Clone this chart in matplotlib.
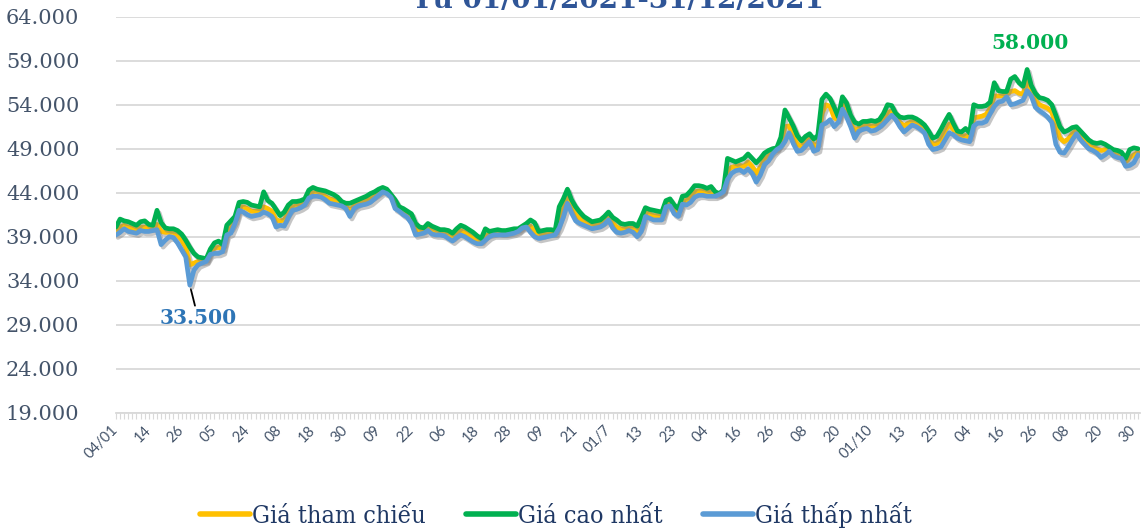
import matplotlib
matplotlib.use("Agg")
import matplotlib.pyplot as plt
import matplotlib.patheffects as pe
from matplotlib import font_manager as fm
from matplotlib.ticker import FixedLocator, FuncFormatter

# ---- data (thousand VND), one value per trading day 04/01/2021 - 31/12/2021 ----
gia_cao_nhat = [
    40.1, 41.0, 40.8, 40.7, 40.5, 40.3, 40.7, 40.8, 40.4, 40.3,
    42.0, 40.6, 40.0, 39.9, 39.9, 39.7, 39.3, 38.6, 37.8, 37.1,
    36.7, 36.6, 36.5, 37.6, 38.3, 38.5, 38.1, 40.3, 40.8, 41.3,
    42.9, 43.0, 42.9, 42.6, 42.5, 42.4, 44.1, 43.1, 42.8, 42.1,
    41.4, 41.8, 42.6, 43.0, 43.0, 43.1, 43.3, 44.3, 44.6, 44.4,
    44.3, 44.2, 44.0, 43.8, 43.5, 43.0, 42.8, 42.8, 43.0, 43.2,
    43.4, 43.6, 43.9, 44.1, 44.4, 44.6, 44.4, 43.8, 43.2, 42.4,
    42.2, 41.9, 41.6, 40.5, 40.1, 40.0, 40.5, 40.2, 40.0, 39.8,
    39.8, 39.7, 39.4, 39.9, 40.3, 40.1, 39.8, 39.5, 39.1, 38.8,
    39.9, 39.6, 39.7, 39.8, 39.7, 39.7, 39.8, 39.9, 39.9, 40.2,
    40.5, 40.9, 40.6, 39.6, 39.7, 39.8, 39.8, 39.7, 42.4, 43.3,
    44.4, 43.2, 42.4, 41.8, 41.3, 41.0, 40.7, 40.8, 40.9, 41.3,
    41.8, 41.2, 40.9, 40.5, 40.4, 40.5, 40.5, 40.2, 41.2, 42.3,
    42.1, 42.0, 41.9, 41.8, 43.1, 43.3, 42.6, 42.2, 43.6, 43.7,
    44.2, 44.8, 44.8, 44.7, 44.5, 44.7, 44.1, 43.9, 44.3, 47.9,
    47.7, 47.5, 47.7, 47.9, 48.4, 47.9, 47.4, 47.9, 48.5, 48.8,
    49.0, 49.1, 50.3, 53.4, 52.5, 51.6, 50.5, 49.9, 50.4, 50.7,
    50.1, 50.5, 54.6, 55.2, 54.7, 53.7, 52.6, 54.9, 54.2, 52.8,
    52.0, 51.8, 52.1, 52.1, 52.2, 52.1, 52.3, 53.0, 54.0, 53.9,
    53.0, 52.6, 52.5, 52.6, 52.6, 52.4, 52.1, 51.7, 51.0, 50.2,
    50.4, 51.2, 52.1, 52.9, 51.9, 51.0, 50.9, 51.3, 50.8, 54.0,
    53.8, 53.8, 53.9, 54.3, 56.5, 55.6, 55.5, 55.5, 56.9, 57.2,
    56.5, 56.1, 58.0, 56.2, 55.3, 54.8, 54.7, 54.5, 54.0, 52.8,
    51.5, 50.9, 51.1, 51.4, 51.5, 51.0, 50.5, 50.0, 49.7, 49.6,
    49.7, 49.5, 49.2, 48.9, 48.8, 48.6, 47.9, 48.9, 49.1, 49.0,
]

gia_thap_nhat = [
    39.2, 39.5, 39.9, 39.6, 39.5, 39.4, 39.7, 39.6, 39.6, 39.7,
    39.8, 38.1, 38.6, 39.0, 38.9, 38.3, 37.5, 36.7, 33.5, 35.2,
    35.8, 36.0, 36.2, 37.0, 37.1, 37.1, 37.3, 39.2, 39.4, 40.5,
    42.0, 41.8, 41.5, 41.3, 41.4, 41.5, 41.8, 41.6, 41.3, 40.1,
    40.3, 40.2, 41.2, 42.0, 42.1, 42.3, 42.6, 43.4, 43.6, 43.6,
    43.5, 43.2, 42.8, 42.7, 42.6, 42.5, 42.2, 41.3, 42.2, 42.5,
    42.6, 42.7, 42.9, 43.3, 43.7, 44.1, 43.9, 43.5, 42.2, 41.9,
    41.5, 41.2, 40.5, 39.2, 39.3, 39.4, 39.7, 39.3, 39.2, 39.2,
    39.1, 38.8, 38.5, 38.9, 39.2, 39.0, 38.7, 38.4, 38.2, 38.2,
    38.6, 39.0, 39.2, 39.2, 39.2, 39.2, 39.3, 39.4, 39.6, 40.0,
    40.1, 39.5, 39.0, 38.8, 38.9, 39.0, 39.1, 39.2, 40.0, 41.2,
    42.8, 41.7, 40.8, 40.5, 40.3, 40.1, 39.9, 40.0, 40.1, 40.4,
    40.9, 40.0, 39.5, 39.4, 39.5, 39.7, 39.5, 39.0, 39.6, 41.3,
    41.1, 40.9, 40.9, 40.9, 42.4, 42.5, 41.6, 41.3, 42.7, 42.6,
    42.9, 43.5, 43.7, 43.7, 43.6, 43.6, 43.6, 43.8, 44.1, 45.5,
    46.2, 46.5, 46.6, 46.3, 46.7, 46.2, 45.2, 46.0, 47.2, 47.6,
    48.4, 48.9, 49.2, 49.8, 50.8, 49.6, 48.7, 48.8, 49.3, 49.8,
    48.7, 48.9, 51.7, 51.9, 52.3, 51.5, 52.0, 53.5, 52.6, 51.5,
    50.2, 51.0, 51.2, 51.3, 51.0, 51.1, 51.4, 51.8, 52.3, 52.8,
    52.3, 51.5, 50.9, 51.3, 51.7, 51.5, 51.2, 50.8, 49.5, 48.9,
    49.0, 49.2, 50.0, 50.8, 50.6, 50.2, 50.0, 49.9, 49.8, 51.6,
    51.9, 51.9, 52.1, 53.0, 53.8, 54.3, 54.4, 54.9, 54.0, 54.1,
    54.3, 54.5, 55.6, 55.0, 53.7, 53.3, 53.0, 52.6, 52.0, 49.5,
    48.6, 48.5, 49.2, 50.0, 50.7, 50.0, 49.5, 49.0, 48.8, 48.5,
    48.0, 48.3, 48.7, 48.2, 48.0, 47.9, 47.0, 47.1, 47.4, 48.3,
]

gia_tham_chieu = [
    39.6, 40.1, 40.3, 40.1, 40.0, 39.8, 40.1, 40.1, 40.0, 40.0,
    40.4, 39.6, 39.5, 39.5, 39.5, 39.2, 38.6, 37.8, 35.8, 36.0,
    36.2, 36.2, 36.3, 37.3, 37.7, 37.8, 37.6, 39.6, 40.0, 40.8,
    42.4, 42.4, 42.2, 41.9, 41.9, 42.0, 42.4, 42.2, 41.9, 40.9,
    40.8, 40.9, 41.8, 42.4, 42.5, 42.7, 42.9, 43.8, 44.0, 44.0,
    43.9, 43.6, 43.3, 43.2, 43.0, 42.7, 42.5, 42.0, 42.5, 42.8,
    43.0, 43.1, 43.4, 43.7, 44.0, 44.3, 44.1, 43.6, 42.7, 42.1,
    41.8, 41.5, 41.0, 39.8, 39.7, 39.7, 40.1, 39.7, 39.6, 39.5,
    39.4, 39.2, 38.9, 39.3, 39.7, 39.5, 39.2, 38.9, 38.6, 38.5,
    39.1, 39.3, 39.4, 39.5, 39.4, 39.4, 39.5, 39.6, 39.7, 40.1,
    40.3, 40.2, 39.6, 39.1, 39.2, 39.4, 39.4, 39.4, 40.9, 42.2,
    43.4, 42.3, 41.5, 41.1, 40.8, 40.5, 40.3, 40.4, 40.5, 40.8,
    41.3, 40.6, 40.1, 39.9, 39.9, 40.0, 40.0, 39.5, 40.3, 41.8,
    41.6, 41.4, 41.4, 41.3, 42.7, 42.9, 42.1, 41.7, 43.1, 43.1,
    43.5, 44.1, 44.2, 44.2, 44.0, 44.1, 43.8, 43.8, 44.2, 46.5,
    46.9, 47.0, 47.1, 47.0, 47.5, 47.0, 46.2, 46.9, 47.8, 48.2,
    48.7, 49.0, 49.7, 51.5, 51.6, 50.5, 49.5, 49.3, 49.8, 50.2,
    49.3, 49.6, 53.0, 54.0, 53.8, 52.5, 52.3, 54.2, 53.3, 52.0,
    51.0, 51.4, 51.6, 51.7, 51.6, 51.6, 51.8, 52.4, 53.1, 53.3,
    52.6, 52.0, 51.6, 51.9, 52.1, 51.9, 51.6, 51.2, 50.2, 49.5,
    49.6, 50.1, 51.0, 51.8, 51.2, 50.6, 50.4, 50.5, 50.3, 52.5,
    52.6, 52.7, 52.9, 53.6, 55.0, 55.0, 55.0, 55.2, 55.5, 55.6,
    55.3, 55.2, 56.8, 55.6, 54.5, 54.0, 53.8, 53.6, 53.2, 51.5,
    50.2, 49.8, 50.1, 50.7, 51.1, 50.5, 50.0, 49.5, 49.3, 49.0,
    48.8, 48.9, 49.0, 48.5, 48.4, 48.2, 47.5, 48.0, 48.3, 48.6,
]

tick_labels = ["04/01", "14", "26", "05", "24", "08", "18", "30", "09", "22",
               "06", "18", "28", "09", "21", "01/7", "13", "23", "04", "16",
               "26", "08", "20", "01/10", "13", "25", "04", "16", "26", "08",
               "20", "30"]
tick_step = 8
y_ticks = [19, 24, 29, 34, 39, 44, 49, 54, 59, 64]
series_names = ["Giá tham chiếu", "Giá cao nhất", "Giá thấp nhất"]
title_text = "Từ 01/01/2021-31/12/2021"

# ---- styling ----
c_yellow = "#FFC000"
c_green = "#00B050"
c_blue = "#5B9BD5"
c_axis_text = "#44546A"
c_grid = "#D9D9D9"

# condensed serif for legend if available
cond_path = None
for f in fm.fontManager.ttflist:
    if "DejaVuSerifCondensed.ttf" in f.fname or f.fname.endswith("DejaVuSerif-Condensed.ttf"):
        cond_path = f.fname
        break
if cond_path:
    legend_font = fm.FontProperties(fname=cond_path, size=18)
else:
    legend_font = fm.FontProperties(family="Liberation Serif", size=20.5)

fig = plt.figure(figsize=(11.44, 5.30), dpi=100)
ax = fig.add_axes([0.101, 0.2213, 0.8955, 0.7472])

n = len(gia_cao_nhat)
x = list(range(n))

shadow = [pe.SimpleLineShadow(offset=(1.5, -1.8), shadow_color="#808080", alpha=0.45), pe.Normal()]
lw = 3.4
l1, = ax.plot(x, gia_tham_chieu, color=c_yellow, lw=lw, solid_joinstyle="round",
              solid_capstyle="round", path_effects=shadow, label=series_names[0], zorder=3)
l2, = ax.plot(x, gia_cao_nhat, color=c_green, lw=lw, solid_joinstyle="round",
              solid_capstyle="round", path_effects=shadow, label=series_names[1], zorder=4)
l3, = ax.plot(x, gia_thap_nhat, color=c_blue, lw=lw, solid_joinstyle="round",
              solid_capstyle="round", path_effects=shadow, label=series_names[2], zorder=5)

ax.set_xlim(-0.1, n - 0.5)
ax.set_ylim(y_ticks[0], y_ticks[-1])
ax.set_yticks(y_ticks)
ax.yaxis.set_major_formatter(FuncFormatter(lambda v, p: f"{v:.3f}"))
ax.grid(axis="y", color=c_grid, lw=1.3, zorder=0)
ax.set_axisbelow(True)
for s in ["top", "right", "left"]:
    ax.spines[s].set_visible(False)
ax.spines["bottom"].set_color(c_grid)
ax.spines["bottom"].set_linewidth(1.3)

ax.tick_params(axis="y", length=0, pad=26, labelsize=15, labelcolor=c_axis_text)
for t in ax.get_yticklabels():
    t.set_fontfamily("DejaVu Serif")

major_pos = list(range(0, n, tick_step))[:len(tick_labels)]
ax.set_xticks(major_pos)
ax.set_xticklabels(tick_labels, rotation=45, ha="right", va="center",
                   rotation_mode="anchor", fontsize=10.5, color=c_axis_text,
                   fontfamily="Lato")
ax.xaxis.set_minor_locator(FixedLocator(x))
ax.tick_params(axis="x", which="both", length=4, width=0.8, color=c_grid, direction="out")
ax.tick_params(axis="x", which="major", pad=7)

# annotations
imax = gia_cao_nhat.index(max(gia_cao_nhat))
ax.annotate(f"{gia_cao_nhat[imax]:.3f}", xy=(imax, gia_cao_nhat[imax]),
            xytext=(2, 19), textcoords="offset points", ha="center", va="center",
            fontsize=14.5, fontweight="bold", color=c_green, fontfamily="DejaVu Serif")
imin = gia_thap_nhat.index(min(gia_thap_nhat))
ax.annotate(f"{gia_thap_nhat[imin]:.3f}", xy=(imin, gia_thap_nhat[imin]),
            xytext=(6, -24), textcoords="offset points", ha="center", va="center",
            fontsize=14.5, fontweight="bold", color="#2E75B6", fontfamily="DejaVu Serif",
            arrowprops=dict(arrowstyle="-", color="black", lw=1.3, shrinkA=0, shrinkB=3))

# title: only its lower part lies inside the image, as in the reference
fig.text(618 / 1144, 1 - 8 / 530, title_text, ha="center", va="baseline",
         fontsize=20, fontweight="bold", color="#2F5597", fontfamily="DejaVu Serif")

leg = fig.legend(handles=[l1, l2, l3], loc="center", bbox_to_anchor=(0.486, 0.028),
                 ncol=3, frameon=False, prop=legend_font, handlelength=2.0,
                 handletextpad=0.1, columnspacing=1.6)
for h in leg.legend_handles:
    h.set_linewidth(4)
    h.set_path_effects([])
for t in leg.get_texts():
    t.set_color("#1F3864")

fig.savefig("out.png", dpi=100)
